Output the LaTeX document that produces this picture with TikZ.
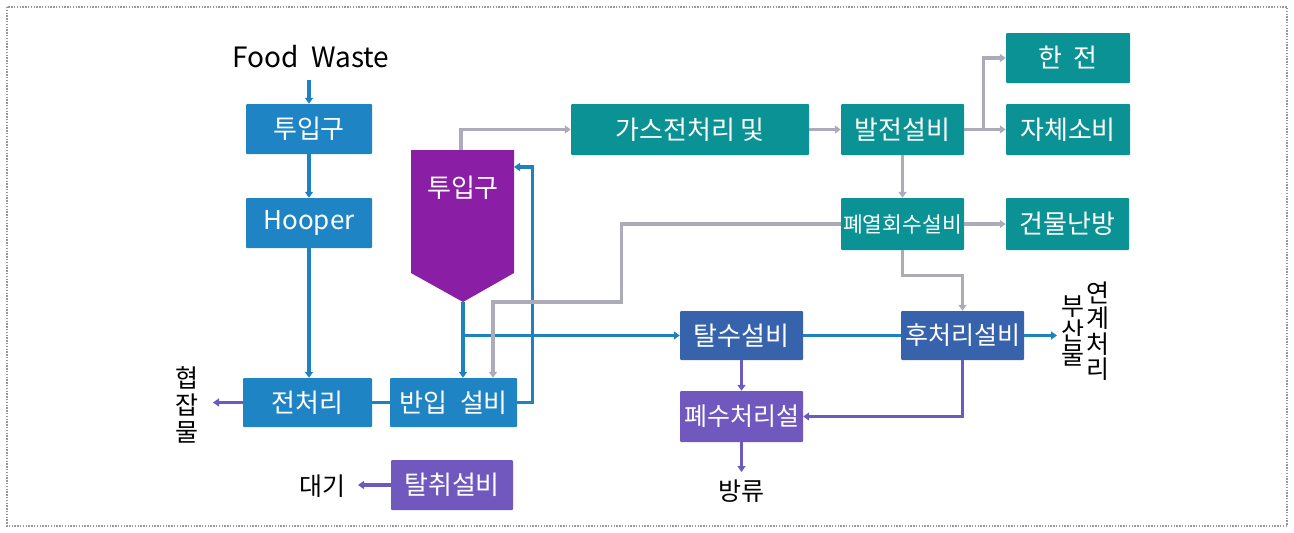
\documentclass[tikz,border=0pt]{standalone}
\usepackage{fontspec}
\setmainfont{Noto Sans CJK KR}
\usetikzlibrary{arrows.meta,calc}
\definecolor{cblue}{RGB}{30,132,195}
\definecolor{cdblue}{RGB}{55,98,172}
\definecolor{cteal}{RGB}{10,146,148}
\definecolor{cpent}{RGB}{138,30,165}
\definecolor{cpurp}{RGB}{112,88,190}
\definecolor{lblue}{RGB}{30,130,192}
\definecolor{lgray}{RGB}{172,172,184}
\definecolor{lpurp}{RGB}{110,90,190}
\begin{document}
\begin{tikzpicture}[x=1pt,y=-1pt,
  box/.style={inner sep=0pt, text=white, font=\fontsize{26}{28}\selectfont, rounded corners=1pt},
  bluebox/.style={box, fill=cblue},
  dbluebox/.style={box, fill=cdblue},
  tealbox/.style={box, fill=cteal},
  purpbox/.style={box, fill=cpurp},
  lbl/.style={inner sep=0pt, text=black, font=\fontsize{25}{27}\selectfont},
  vlbl/.style={inner sep=0pt, text=black, align=center},
  conn/.style={line width=3.2pt},
  tipd/.style={-{Triangle[length=6pt,width=8pt]}},
  bl/.style={conn, draw=lblue},
  gr/.style={conn, draw=lgray},
  pu/.style={conn, draw=lpurp},
]
\useasboundingbox (0,0) rectangle (1294,533);
\draw[gray!80, line width=1.3pt, dash pattern=on 1.4pt off 1.4pt] (7,7) rectangle (1287,526);

% left column
\node[lbl, font=\fontsize{28}{30}\selectfont] (food) at (311,57) {Food\hspace{0.45em}Waste};
\coordinate (fw) at (309,80);
\node[bluebox, minimum width=126pt, minimum height=50pt] (in1) at (309,129) {투입구};
\node[bluebox, minimum width=126pt, minimum height=50pt] (hooper) at (309,223) {Hooper};
\node[bluebox, minimum width=129pt, minimum height=49pt] (pre) at (307.5,402.5) {전처리};
\node[bluebox, minimum width=127pt, minimum height=49pt] (ban) at (453.5,402.5) {반입\hspace{0.5em}설비};
\node[purpbox, minimum width=122pt, minimum height=50pt] (deo) at (452,485) {탈취설비};

\node[vlbl, font=\fontsize{25}{27}\selectfont] (trash) at (187,405) {협\\잡\\물};
\coordinate (trashend) at (213,402.5);
\node[lbl] (air) at (322,486) {대기};
\coordinate (airend) at (358,485);

% pentagon hopper
\fill[cpent] (411,150) -- (514,150) -- (514,273) -- (463,302) -- (411,273) -- cycle;
\node[box] (in2) at (463,188) {투입구};
\coordinate (tip) at (463,302);
\coordinate (ptop) at (461,150);
\coordinate (pright) at (514,167);

% right part
\node[tealbox, minimum width=238pt, minimum height=51pt] (gas) at (690,129.5) {가스전처리 및};
\node[tealbox, minimum width=123pt, minimum height=51pt] (gen) at (902.5,129.5) {발전설비};
\node[tealbox, minimum width=124pt, minimum height=50pt] (kepco) at (1068,58) {한\hspace{0.45em}전};
\node[tealbox, minimum width=124pt, minimum height=51pt] (self) at (1068,129.5) {자체소비};
\node[tealbox, minimum width=123pt, minimum height=52pt, font=\fontsize{21.5}{23}\selectfont] (heat) at (902.5,224) {폐열회수설비};
\node[tealbox, minimum width=123pt, minimum height=52pt] (bldg) at (1067.5,224) {건물난방};
\node[dbluebox, minimum width=123pt, minimum height=49pt] (dew) at (741.5,335.5) {탈수설비};
\node[dbluebox, minimum width=123pt, minimum height=49pt, font=\fontsize{25}{27}\selectfont] (post) at (962.5,335.5) {후처리설비};
\node[purpbox, minimum width=123pt, minimum height=51pt, font=\fontsize{25}{27}\selectfont] (ww) at (741.5,416.5) {폐수처리설};

\node[vlbl, font=\fontsize{25}{24.5}\selectfont] (byp) at (1073,331) {부\\산\\물};
\node[vlbl, font=\fontsize{25}{25.5}\selectfont] (link) at (1098,331) {연\\계\\처\\리};
\coordinate (bypend) at (1057,335.5);
\node[lbl] (out) at (741.5,491) {방류};
\coordinate (outend) at (741.5,472);

% blue connectors
\draw[bl, tipd] (fw) -- (in1.north);
\draw[bl, tipd] (in1.south) -- (hooper.north);
\draw[bl, tipd] (hooper.south) -- (hooper.south |- pre.north);
\draw[bl] (ban.west) -- (pre.east);
\draw[bl, tipd] (ban.east) -- ++(15,0) |- (pright);
\draw[bl, tipd] (tip) -- (tip |- ban.north);
\draw[bl, tipd] (tip |- dew.west) -- (dew.west);
\draw[bl] (dew.east) -- (post.west);
\draw[bl, tipd] (post.east) -- (bypend);

% gray connectors
\draw[gr, tipd] (ptop) |- (gas.west);
\draw[gr, tipd] (gas.east) -- (gen.west);
\draw[gr, tipd] (gen.east) -- (self.west);
\draw[gr, tipd] ($(gen.east)+(19,0)$) |- (kepco.west);
\draw[gr, tipd] (gen.south) -- (heat.north);
\draw[gr, tipd] (heat.east) -- (bldg.west);
\draw[gr, tipd] (heat.west) -- ++(-219,0) -- ++(0,78) -| ($(ban.north)+(39.5,0)$);
\draw[gr, tipd] (heat.south) -- ++(0,25) -| (post.north);

% purple connectors
\draw[pu, tipd] (pre.west) -- (trashend);
\draw[pu, tipd] (deo.west) -- (airend);
\draw[pu, tipd] (dew.south) -- (ww.north);
\draw[pu, tipd] (post.south) |- (ww.east);
\draw[pu, tipd] (ww.south) -- (outend);
\end{tikzpicture}
\end{document}
